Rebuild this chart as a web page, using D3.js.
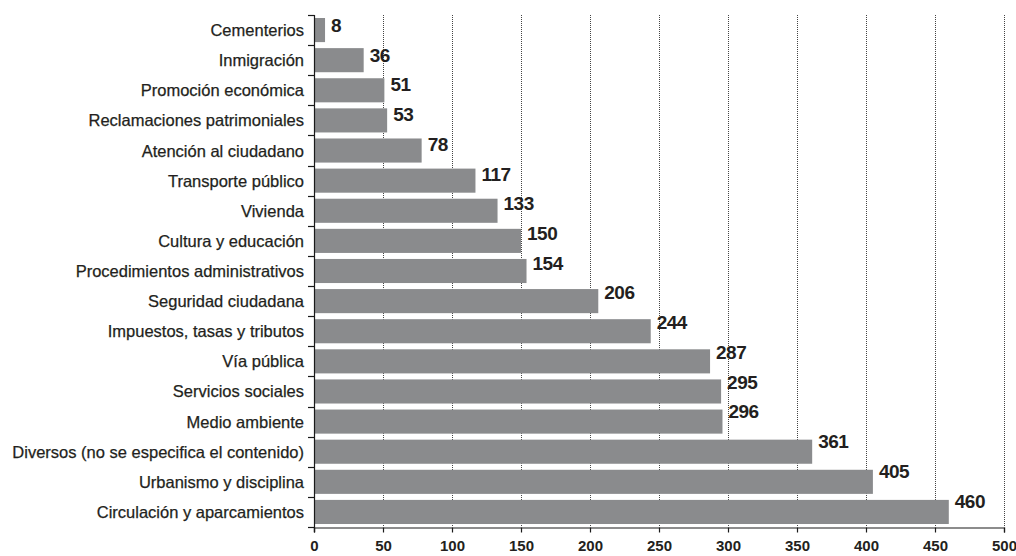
<!DOCTYPE html>
<html>
<head>
<meta charset="utf-8">
<script src="https://cdn.jsdelivr.net/npm/d3@7"></script>
<style>
  html, body { margin: 0; padding: 0; background: #fff; }
  svg { display: block; }
</style>
</head>
<body>
<svg id="chart" width="1016" height="556"></svg>
<script>
// Categorías (de arriba abajo) y número de casos
const categories = [
  "Cementerios",
  "Inmigración",
  "Promoción económica",
  "Reclamaciones patrimoniales",
  "Atención al ciudadano",
  "Transporte público",
  "Vivienda",
  "Cultura y educación",
  "Procedimientos administrativos",
  "Seguridad ciudadana",
  "Impuestos, tasas y tributos",
  "Vía pública",
  "Servicios sociales",
  "Medio ambiente",
  "Diversos (no se especifica el contenido)",
  "Urbanismo y disciplina",
  "Circulación y aparcamientos"
];
const values = [8, 36, 51, 53, 78, 117, 133, 150, 154, 206, 244, 287, 295, 296, 361, 405, 460];
const xTicks = [0, 50, 100, 150, 200, 250, 300, 350, 400, 450, 500];

const data = categories.map((c, i) => ({ cat: c, val: values[i], i }));

const svg = d3.select("#chart");
const plotLeft = 314, plotRight = 1004, plotTop = 15, plotBottom = 527;

const x = d3.scaleLinear().domain([0, 500]).range([plotLeft, plotRight]);
const y = d3.scaleBand().domain(categories).range([plotTop, plotBottom])
  .paddingInner(0.2).paddingOuter(0.1);
// Etiquetas de valor: posición vertical propia, algo por encima de cada barra
const yLabel = d3.scalePoint().domain(categories).range([25, 500.5]);

const axisColor = "#1a1a1a";
const textColor = "#231f20";
const barColor = "#8a8b8d";
const fontFamily = "Liberation Sans, Arial, Helvetica, sans-serif";

// Líneas de cuadrícula punteadas
svg.append("g")
  .selectAll("line")
  .data(xTicks.filter(t => t > 0))
  .join("line")
  .attr("x1", d => Math.round(x(d)) + 0.5).attr("x2", d => Math.round(x(d)) + 0.5)
  .attr("y1", plotTop).attr("y2", plotBottom)
  .attr("stroke", "#444")
  .attr("stroke-width", 1)
  .attr("stroke-dasharray", "1,1");

// Barras
svg.append("g")
  .selectAll("rect")
  .data(data)
  .join("rect")
  .attr("x", x(0))
  .attr("y", d => y(d.cat))
  .attr("width", d => x(d.val) - x(0))
  .attr("height", y.bandwidth())
  .attr("fill", barColor);

// Eje vertical con marcas en los límites de cada banda
const boundaries = d3.range(categories.length + 1)
  .map(k => plotTop + k * (plotBottom - plotTop) / categories.length);
const gy = svg.append("g");
gy.append("line")
  .attr("x1", plotLeft + 0.5).attr("x2", plotLeft + 0.5)
  .attr("y1", plotTop).attr("y2", plotBottom + 5)
  .attr("stroke", axisColor).attr("stroke-width", 1.2);
gy.selectAll("line.tick")
  .data(boundaries)
  .join("line")
  .attr("class", "tick")
  .attr("x1", plotLeft - 6).attr("x2", plotLeft + 0.5)
  .attr("y1", d => Math.round(d) + 0.5).attr("y2", d => Math.round(d) + 0.5)
  .attr("stroke", axisColor).attr("stroke-width", 1.2);
gy.selectAll("text")
  .data(data)
  .join("text")
  .attr("x", plotLeft - 10)
  .attr("y", d => y(d.cat) + y.bandwidth() / 2 + 6)
  .attr("text-anchor", "end")
  .attr("font-family", fontFamily)
  .attr("font-size", 16.5)
  .attr("fill", textColor)
  .attr("stroke", textColor)
  .attr("stroke-width", 0.25)
  .text(d => d.cat);

// Eje horizontal
const gx = svg.append("g")
  .attr("transform", `translate(0,${plotBottom + 0.5})`)
  .call(d3.axisBottom(x).tickValues(xTicks).tickSize(5).tickPadding(8).tickFormat(d3.format("d")));
gx.select(".domain").attr("stroke", axisColor).attr("stroke-width", 1.2);
gx.selectAll(".tick line").attr("stroke", axisColor).attr("stroke-width", 1.2);
gx.selectAll(".tick text")
  .attr("font-family", fontFamily)
  .attr("font-size", 15)
  .attr("font-weight", "bold")
  .attr("fill", textColor);

// Etiquetas de valor
svg.append("g")
  .selectAll("text")
  .data(data)
  .join("text")
  .attr("x", d => x(d.val) + 6)
  .attr("y", d => yLabel(d.cat) + 7)
  .attr("font-family", fontFamily)
  .attr("font-size", 19)
  .attr("font-weight", "bold")
  .attr("letter-spacing", -0.5)
  .attr("fill", textColor)
  .text(d => d.val);
</script>
</body>
</html>
